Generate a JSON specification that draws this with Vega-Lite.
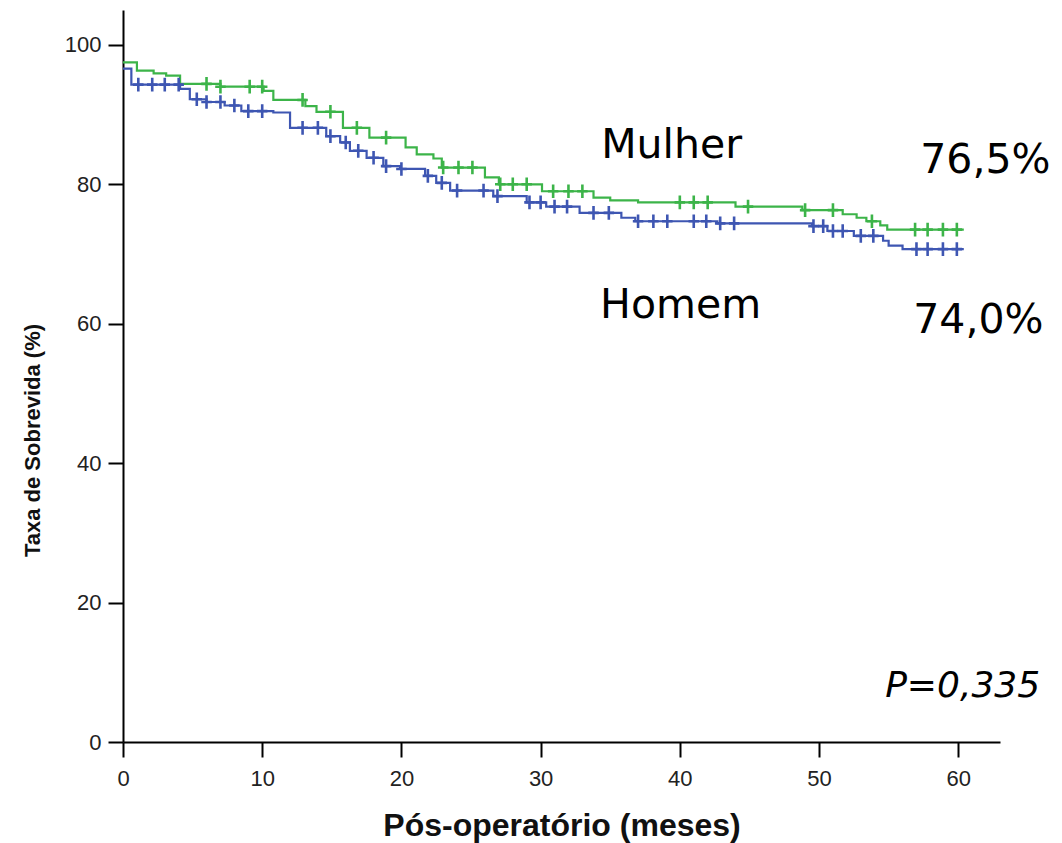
{
  "$schema": "https://vega.github.io/schema/vega-lite/v6.json",
  "width": 877,
  "height": 732,
  "autosize": {"type": "none"},
  "padding": {"left": 123, "top": 10, "right": 62, "bottom": 101},
  "background": "white",
  "config": {
    "view": {"stroke": null},
    "axis": {
      "grid": false,
      "domainColor": "#000000",
      "domainWidth": 2,
      "tickColor": "#000000",
      "tickWidth": 2,
      "tickSize": 15,
      "labelFlush": false,
      "labelFont": "Liberation Sans",
      "labelFontSize": 22,
      "labelColor": "#222222",
      "titleColor": "#111111"
    }
  },
  "datasets": {
    "curves": [
      {"grupo": "Mulher", "t": 0, "s": 97.5},
      {"grupo": "Mulher", "t": 1.0, "s": 96.3},
      {"grupo": "Mulher", "t": 2.2, "s": 95.9},
      {"grupo": "Mulher", "t": 3.1, "s": 95.6},
      {"grupo": "Mulher", "t": 4.1, "s": 94.4},
      {"grupo": "Mulher", "t": 7.0, "s": 94.0},
      {"grupo": "Mulher", "t": 10.1, "s": 93.4},
      {"grupo": "Mulher", "t": 10.8, "s": 92.1},
      {"grupo": "Mulher", "t": 13.1, "s": 91.2},
      {"grupo": "Mulher", "t": 13.9, "s": 90.4},
      {"grupo": "Mulher", "t": 15.8, "s": 88.1},
      {"grupo": "Mulher", "t": 17.7, "s": 86.7},
      {"grupo": "Mulher", "t": 20.3, "s": 85.3},
      {"grupo": "Mulher", "t": 21.1, "s": 84.3},
      {"grupo": "Mulher", "t": 22.3, "s": 83.7},
      {"grupo": "Mulher", "t": 22.9, "s": 82.4},
      {"grupo": "Mulher", "t": 26.0, "s": 81.0},
      {"grupo": "Mulher", "t": 27.0, "s": 80.0},
      {"grupo": "Mulher", "t": 30.1, "s": 79.0},
      {"grupo": "Mulher", "t": 33.8, "s": 78.1},
      {"grupo": "Mulher", "t": 35.0, "s": 77.7},
      {"grupo": "Mulher", "t": 37.0, "s": 77.4},
      {"grupo": "Mulher", "t": 44.0, "s": 76.8},
      {"grupo": "Mulher", "t": 48.8, "s": 76.3},
      {"grupo": "Mulher", "t": 51.7, "s": 75.7},
      {"grupo": "Mulher", "t": 52.7, "s": 75.2},
      {"grupo": "Mulher", "t": 53.4, "s": 74.7},
      {"grupo": "Mulher", "t": 54.4, "s": 74.1},
      {"grupo": "Mulher", "t": 54.9, "s": 73.5},
      {"grupo": "Mulher", "t": 60.4, "s": 73.5},
      {"grupo": "Homem", "t": 0, "s": 96.6},
      {"grupo": "Homem", "t": 0.6, "s": 94.3},
      {"grupo": "Homem", "t": 4.1, "s": 93.7},
      {"grupo": "Homem", "t": 4.8, "s": 92.2},
      {"grupo": "Homem", "t": 6.0, "s": 91.8},
      {"grupo": "Homem", "t": 7.3, "s": 91.3},
      {"grupo": "Homem", "t": 8.5, "s": 90.5},
      {"grupo": "Homem", "t": 10.8, "s": 90.3},
      {"grupo": "Homem", "t": 12.0, "s": 88.1},
      {"grupo": "Homem", "t": 14.6, "s": 86.9},
      {"grupo": "Homem", "t": 15.6, "s": 86.0},
      {"grupo": "Homem", "t": 16.3, "s": 84.8},
      {"grupo": "Homem", "t": 17.5, "s": 83.8},
      {"grupo": "Homem", "t": 18.7, "s": 82.6},
      {"grupo": "Homem", "t": 19.9, "s": 82.2},
      {"grupo": "Homem", "t": 21.7, "s": 81.2},
      {"grupo": "Homem", "t": 22.5, "s": 80.2},
      {"grupo": "Homem", "t": 23.5, "s": 79.1},
      {"grupo": "Homem", "t": 26.6, "s": 78.3},
      {"grupo": "Homem", "t": 29.0, "s": 77.4},
      {"grupo": "Homem", "t": 30.4, "s": 76.8},
      {"grupo": "Homem", "t": 32.8, "s": 75.9},
      {"grupo": "Homem", "t": 35.8, "s": 75.2},
      {"grupo": "Homem", "t": 36.8, "s": 74.7},
      {"grupo": "Homem", "t": 42.7, "s": 74.4},
      {"grupo": "Homem", "t": 49.5, "s": 74.0},
      {"grupo": "Homem", "t": 50.6, "s": 73.3},
      {"grupo": "Homem", "t": 52.5, "s": 72.6},
      {"grupo": "Homem", "t": 54.6, "s": 71.9},
      {"grupo": "Homem", "t": 55.0, "s": 71.2},
      {"grupo": "Homem", "t": 56.0, "s": 70.7},
      {"grupo": "Homem", "t": 60.4, "s": 70.7}
    ],
    "censors": [
      {"grupo": "Mulher", "t": 6.0, "s": 94.4},
      {"grupo": "Mulher", "t": 7.0, "s": 94.0},
      {"grupo": "Mulher", "t": 9.1, "s": 94.0},
      {"grupo": "Mulher", "t": 10.0, "s": 94.0},
      {"grupo": "Mulher", "t": 12.9, "s": 92.1},
      {"grupo": "Mulher", "t": 14.9, "s": 90.4},
      {"grupo": "Mulher", "t": 16.8, "s": 88.1},
      {"grupo": "Mulher", "t": 18.9, "s": 86.7},
      {"grupo": "Mulher", "t": 23.0, "s": 82.4},
      {"grupo": "Mulher", "t": 24.1, "s": 82.4},
      {"grupo": "Mulher", "t": 25.1, "s": 82.4},
      {"grupo": "Mulher", "t": 27.1, "s": 80.0},
      {"grupo": "Mulher", "t": 28.0, "s": 80.0},
      {"grupo": "Mulher", "t": 29.0, "s": 80.0},
      {"grupo": "Mulher", "t": 30.9, "s": 79.0},
      {"grupo": "Mulher", "t": 32.0, "s": 79.0},
      {"grupo": "Mulher", "t": 33.0, "s": 79.0},
      {"grupo": "Mulher", "t": 40.0, "s": 77.4},
      {"grupo": "Mulher", "t": 41.0, "s": 77.4},
      {"grupo": "Mulher", "t": 42.0, "s": 77.4},
      {"grupo": "Mulher", "t": 44.9, "s": 76.8},
      {"grupo": "Mulher", "t": 49.0, "s": 76.3},
      {"grupo": "Mulher", "t": 51.0, "s": 76.3},
      {"grupo": "Mulher", "t": 53.8, "s": 74.7},
      {"grupo": "Mulher", "t": 56.9, "s": 73.5},
      {"grupo": "Mulher", "t": 57.8, "s": 73.5},
      {"grupo": "Mulher", "t": 58.9, "s": 73.5},
      {"grupo": "Mulher", "t": 59.9, "s": 73.5},
      {"grupo": "Homem", "t": 1.1, "s": 94.3},
      {"grupo": "Homem", "t": 2.1, "s": 94.3},
      {"grupo": "Homem", "t": 3.0, "s": 94.3},
      {"grupo": "Homem", "t": 4.0, "s": 94.3},
      {"grupo": "Homem", "t": 5.3, "s": 92.2},
      {"grupo": "Homem", "t": 6.0, "s": 91.8},
      {"grupo": "Homem", "t": 7.0, "s": 91.8},
      {"grupo": "Homem", "t": 8.0, "s": 91.3},
      {"grupo": "Homem", "t": 9.0, "s": 90.5},
      {"grupo": "Homem", "t": 10.0, "s": 90.5},
      {"grupo": "Homem", "t": 12.9, "s": 88.1},
      {"grupo": "Homem", "t": 14.0, "s": 88.1},
      {"grupo": "Homem", "t": 14.9, "s": 86.9},
      {"grupo": "Homem", "t": 16.0, "s": 86.0},
      {"grupo": "Homem", "t": 16.9, "s": 84.8},
      {"grupo": "Homem", "t": 18.0, "s": 83.8},
      {"grupo": "Homem", "t": 18.9, "s": 82.6},
      {"grupo": "Homem", "t": 20.0, "s": 82.2},
      {"grupo": "Homem", "t": 21.9, "s": 81.2},
      {"grupo": "Homem", "t": 22.9, "s": 80.2},
      {"grupo": "Homem", "t": 24.0, "s": 79.1},
      {"grupo": "Homem", "t": 25.9, "s": 79.1},
      {"grupo": "Homem", "t": 26.9, "s": 78.3},
      {"grupo": "Homem", "t": 29.2, "s": 77.4},
      {"grupo": "Homem", "t": 30.0, "s": 77.4},
      {"grupo": "Homem", "t": 31.0, "s": 76.8},
      {"grupo": "Homem", "t": 31.9, "s": 76.8},
      {"grupo": "Homem", "t": 33.8, "s": 75.9},
      {"grupo": "Homem", "t": 34.9, "s": 75.9},
      {"grupo": "Homem", "t": 37.0, "s": 74.7},
      {"grupo": "Homem", "t": 38.1, "s": 74.7},
      {"grupo": "Homem", "t": 39.1, "s": 74.7},
      {"grupo": "Homem", "t": 41.0, "s": 74.7},
      {"grupo": "Homem", "t": 41.9, "s": 74.7},
      {"grupo": "Homem", "t": 42.9, "s": 74.4},
      {"grupo": "Homem", "t": 43.9, "s": 74.4},
      {"grupo": "Homem", "t": 49.6, "s": 74.0},
      {"grupo": "Homem", "t": 50.3, "s": 74.0},
      {"grupo": "Homem", "t": 51.0, "s": 73.3},
      {"grupo": "Homem", "t": 51.7, "s": 73.3},
      {"grupo": "Homem", "t": 53.0, "s": 72.6},
      {"grupo": "Homem", "t": 53.9, "s": 72.6},
      {"grupo": "Homem", "t": 57.0, "s": 70.7},
      {"grupo": "Homem", "t": 57.8, "s": 70.7},
      {"grupo": "Homem", "t": 58.9, "s": 70.7},
      {"grupo": "Homem", "t": 59.9, "s": 70.7}
    ],
    "annotations": [
      {"label": "Mulher", "t": 34.35, "s": 83.7},
      {"label": "Homem", "t": 34.27, "s": 60.8},
      {"label": "76,5%", "t": 57.27, "s": 81.6},
      {"label": "74,0%", "t": 56.77, "s": 58.7}
    ],
    "pvalue": [
      {"label": "P=0,335", "t": 54.75, "s": 6.5}
    ]
  },
  "layer": [
    {
      "data": {"name": "curves"},
      "mark": {"type": "line", "interpolate": "step-after", "strokeWidth": 2.2},
      "encoding": {
        "x": {
          "field": "t", "type": "quantitative",
          "scale": {"domain": [0, 63], "nice": false, "zero": false},
          "axis": {
            "values": [0, 10, 20, 30, 40, 50, 60],
            "title": "Pós-operatório (meses)",
            "titleFont": "Liberation Sans",
            "titleFontWeight": "bold",
            "titleFontSize": 32,
            "titleBaseline": "alphabetic",
            "titleY": 93,
            "labelPadding": 11
          }
        },
        "y": {
          "field": "s", "type": "quantitative",
          "scale": {"domain": [0, 105], "nice": false},
          "axis": {
            "values": [0, 20, 40, 60, 80, 100],
            "title": "Taxa de Sobrevida (%)",
            "titleFont": "Liberation Sans",
            "titleFontWeight": "bold",
            "titleFontSize": 22,
            "titleAngle": -90,
            "titleBaseline": "alphabetic",
            "titleX": -84,
            "titleY": 430,
            "labelPadding": 7
          }
        },
        "color": {
          "field": "grupo", "type": "nominal",
          "scale": {"domain": ["Mulher", "Homem"], "range": ["#3cb449", "#3e56b2"]},
          "legend": null
        },
        "order": {"field": "t", "type": "quantitative"}
      }
    },
    {
      "data": {"name": "censors"},
      "mark": {
        "type": "point",
        "shape": "M-1,0H1M0,-1.3V1.3",
        "size": 110,
        "filled": false,
        "strokeWidth": 2.6,
        "opacity": 1
      },
      "encoding": {
        "x": {"field": "t", "type": "quantitative"},
        "y": {"field": "s", "type": "quantitative"},
        "color": {
          "field": "grupo", "type": "nominal",
          "scale": {"domain": ["Mulher", "Homem"], "range": ["#3cb449", "#3e56b2"]},
          "legend": null
        }
      }
    },
    {
      "data": {"name": "annotations"},
      "mark": {
        "type": "text",
        "font": "DejaVu Sans",
        "fontSize": 41,
        "align": "left",
        "baseline": "alphabetic",
        "color": "#000000"
      },
      "encoding": {
        "x": {"field": "t", "type": "quantitative"},
        "y": {"field": "s", "type": "quantitative"},
        "text": {"field": "label", "type": "nominal"}
      }
    },
    {
      "data": {"name": "pvalue"},
      "mark": {
        "type": "text",
        "font": "DejaVu Sans",
        "fontSize": 36,
        "fontStyle": "italic",
        "align": "left",
        "baseline": "alphabetic",
        "color": "#000000"
      },
      "encoding": {
        "x": {"field": "t", "type": "quantitative"},
        "y": {"field": "s", "type": "quantitative"},
        "text": {"field": "label", "type": "nominal"}
      }
    }
  ]
}
